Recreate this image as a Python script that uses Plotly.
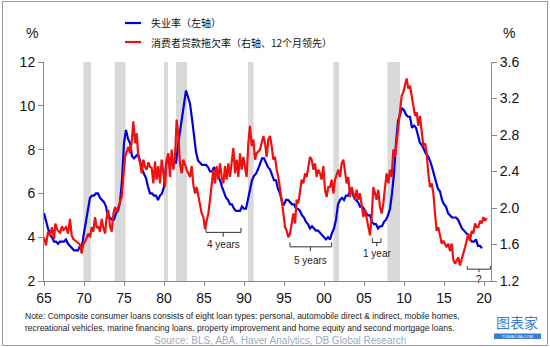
import plotly.graph_objects as go

# ---------------- data ----------------
# US unemployment rate, quarterly (left axis, %)
unemp_start = 1965.0
unemp = [
    5.1, 4.7, 4.4, 4.1,   4.0, 3.8, 3.8, 3.7,   3.8, 3.8, 3.8, 3.9,   3.7, 3.6, 3.5, 3.4,
    3.4, 3.4, 3.6, 3.6,   4.2, 4.8, 5.2, 5.8,   5.9, 5.9, 6.0, 6.0,   5.8, 5.7, 5.6, 5.4,
    4.9, 4.9, 4.8, 4.8,   5.1, 5.2, 5.6, 6.6,   8.3, 8.9, 8.5, 8.3,   7.7, 7.6, 7.7, 7.8,
    7.5, 7.1, 6.9, 6.7,   6.3, 6.0, 6.0, 5.9,   5.9, 5.7, 5.9, 6.0,   6.3, 7.3, 7.7, 7.4,
    7.4, 7.4, 7.4, 8.2,   8.8, 9.4, 9.9, 10.7,  10.4, 10.1, 9.4, 8.5,  7.9, 7.5, 7.4, 7.3,
    7.3, 7.3, 7.2, 7.0,   7.0, 7.2, 7.0, 6.8,   6.6, 6.3, 6.0, 5.8,   5.7, 5.5, 5.5, 5.3,
    5.2, 5.2, 5.2, 5.4,   5.3, 5.3, 5.7, 6.1,   6.6, 6.8, 6.9, 7.1,   7.4, 7.6, 7.6, 7.4,
    7.2, 7.1, 6.8, 6.6,   6.6, 6.2, 6.0, 5.6,   5.5, 5.7, 5.7, 5.6,   5.5, 5.5, 5.3, 5.3,
    5.2, 5.0, 4.9, 4.7,   4.6, 4.4, 4.5, 4.4,   4.3, 4.3, 4.2, 4.1,   4.0, 3.9, 4.0, 3.9,
    4.2, 4.4, 4.8, 5.5,   5.7, 5.8, 5.7, 5.9,   5.9, 6.1, 6.1, 5.8,   5.7, 5.6, 5.4, 5.4,
    5.3, 5.1, 5.0, 5.0,   4.7, 4.6, 4.6, 4.4,   4.5, 4.5, 4.7, 4.8,   5.0, 5.3, 6.0, 6.9,
    8.3, 9.3, 9.6, 9.9,   9.8, 9.6, 9.5, 9.5,   9.0, 9.1, 9.0, 8.6,   8.3, 8.2, 8.0, 7.8,
    7.7, 7.5, 7.2, 6.9,   6.6, 6.2, 6.1, 5.7,   5.5, 5.4, 5.1, 5.0,   4.9, 4.9, 4.9, 4.8,
    4.6, 4.4, 4.3, 4.2,   4.1, 3.9, 3.8, 3.8,   3.9, 3.6, 3.6, 3.5,
]
unemp_year = [unemp_start + 0.25 * i for i in range(len(unemp))]

# Consumer loan delinquency rate, 12m lead (right axis, %)
red_year = [
    1965.00, 1965.25, 1965.50, 1965.75, 1966.00, 1966.25, 1966.42, 1966.67, 1967.00, 1967.25,
    1967.42, 1967.75, 1968.00, 1968.25, 1968.46, 1968.67, 1969.08, 1969.50, 1969.71, 1969.90,
    1970.13, 1970.54, 1970.75, 1970.96, 1971.17, 1971.38, 1971.60, 1971.79, 1972.00, 1972.21,
    1972.42, 1972.63, 1972.83, 1973.04, 1973.25, 1973.46, 1973.70, 1973.88, 1974.10, 1974.29,
    1974.50, 1974.71, 1974.92, 1975.13, 1975.35, 1975.54, 1975.75, 1975.96, 1976.17, 1976.38,
    1976.58, 1976.79, 1977.00, 1977.21, 1977.42, 1977.63, 1977.83, 1978.05, 1978.25,
    1978.46, 1978.67, 1978.88, 1979.08, 1979.29, 1979.50, 1979.71, 1979.92, 1980.13, 1980.33,
    1980.54, 1980.75, 1980.96, 1981.17, 1981.38, 1981.58, 1981.79, 1982.00, 1982.21, 1982.42,
    1982.83, 1983.25, 1983.46, 1983.67, 1983.88, 1984.08, 1984.50, 1984.71, 1984.92, 1985.13,
    1985.33, 1985.54, 1985.75, 1985.96, 1986.17, 1986.38, 1986.58, 1986.79, 1987.00, 1987.21,
    1987.42, 1987.63, 1987.83, 1988.04, 1988.25, 1988.67, 1988.88, 1989.08, 1989.29, 1989.50,
    1989.71, 1989.92, 1990.33, 1990.54, 1990.75, 1990.96, 1991.17, 1991.38, 1991.58,
    1992.00, 1992.42, 1992.63, 1992.83, 1993.04, 1993.25, 1993.46, 1993.67, 1993.88, 1994.08,
    1994.29, 1994.50, 1994.71, 1994.92, 1995.13, 1995.33, 1995.54, 1995.75, 1995.96, 1996.17,
    1996.38, 1996.58, 1996.79, 1997.00, 1997.21, 1997.42, 1997.63, 1997.83, 1998.04, 1998.25,
    1998.46, 1998.67, 1998.88, 1999.08, 1999.29, 1999.50, 1999.71, 1999.92, 2000.13, 2000.33,
    2000.54, 2000.75, 2000.96, 2001.17, 2001.38, 2001.58, 2001.79, 2002.00, 2002.21, 2002.42,
    2002.63, 2002.83, 2003.04, 2003.25, 2003.46, 2003.67, 2003.88, 2004.08, 2004.29, 2004.50,
    2004.71, 2004.92, 2005.13, 2005.33, 2005.54,
    2005.75, 2005.96, 2006.17, 2006.38, 2006.58, 2006.79, 2007.00, 2007.21, 2007.42, 2007.63,
    2007.83, 2008.04, 2008.25, 2008.46, 2008.67, 2008.88, 2009.08, 2009.29, 2009.50, 2009.71,
    2009.92, 2010.13, 2010.33, 2010.54, 2010.75, 2010.96, 2011.17, 2011.38, 2011.58, 2011.79,
    2011.99, 2012.21, 2012.42, 2012.63, 2012.83, 2013.04, 2013.25, 2013.46, 2013.67, 2013.88,
    2014.08, 2014.29, 2014.50, 2014.71, 2014.92, 2015.13, 2015.33, 2015.54, 2015.75, 2015.96,
    2016.17, 2016.38, 2016.58, 2016.79, 2016.99, 2017.21, 2017.42, 2017.63, 2017.83, 2018.04,
    2018.25, 2018.46, 2018.67, 2018.88, 2019.08, 2019.29, 2019.50, 2019.71, 2019.92, 2020.13,
    2020.33,
]
red_rate = [
    1.68, 1.59, 1.74, 1.70, 1.79, 1.66, 1.83, 1.76, 1.73, 1.80,
    1.76, 1.79, 1.72, 1.88, 1.70, 1.66, 1.63, 1.60, 1.50, 1.60,
    1.63, 1.72, 1.68, 1.79, 1.74, 1.90, 1.78, 1.80, 1.74, 1.88,
    1.78, 1.72, 1.90, 1.98, 1.80, 1.74, 1.95, 2.01, 1.96, 2.01,
    2.06, 2.12, 2.34, 2.56, 2.62, 2.67, 2.60, 2.72, 2.95, 2.71,
    2.82, 2.56, 2.50, 2.38, 2.53, 2.45, 2.42, 2.50, 2.45,
    2.44, 2.27, 2.51, 2.31, 2.46, 2.27, 2.53, 2.38, 2.23, 2.53,
    2.60, 2.34, 2.64, 2.42, 2.56, 2.97, 2.79, 2.49, 2.38, 2.53,
    2.42, 2.34, 2.46, 2.25, 2.16, 2.23, 2.01, 1.94, 1.90, 1.77,
    1.86, 1.94, 2.09, 2.23, 2.42, 2.27, 2.46, 2.31, 2.49, 2.34,
    2.27, 2.46, 2.31, 2.49, 2.34, 2.66, 2.38, 2.53, 2.34, 2.60,
    2.42, 2.56, 2.34, 2.71, 2.90, 2.68, 2.75, 2.53, 2.60,
    2.64, 2.79, 2.71, 2.56, 2.75, 2.79, 2.68, 2.53, 2.56, 2.42,
    2.34, 2.23, 2.09, 1.94, 1.79, 1.75, 1.68, 1.72, 1.83, 1.94,
    1.83, 2.09, 2.05, 2.16, 2.31, 2.27, 2.38, 2.34, 2.46, 2.56,
    2.53, 2.42, 2.49, 2.34, 2.42, 2.38, 2.31, 2.46, 2.20, 2.12,
    2.23, 2.23, 2.31, 2.16, 2.31, 2.38, 2.42, 2.34, 2.49, 2.53,
    2.38, 2.27, 2.34, 2.12, 2.23, 2.16, 2.09, 2.20, 2.09, 2.16,
    2.05, 1.90, 1.98, 1.90, 1.79,
    1.70, 1.90, 2.23, 2.16, 2.09, 2.20, 2.01, 1.94, 2.05, 2.23,
    2.38, 2.27, 2.42, 2.34, 2.64, 2.56, 2.71, 2.90, 3.05, 3.23,
    3.27, 3.34, 3.42, 3.31, 3.34, 3.23, 3.12, 3.01, 3.05, 2.90,
    3.01, 2.82, 2.68, 2.71, 2.60, 2.38, 2.23, 2.27, 2.16, 1.94,
    1.75, 1.79, 1.68, 1.61, 1.64, 1.61, 1.57, 1.61, 1.53, 1.61,
    1.43, 1.39, 1.43, 1.46, 1.37, 1.43, 1.50, 1.57, 1.64, 1.72,
    1.64, 1.75, 1.72, 1.83, 1.79, 1.79, 1.86, 1.83, 1.90, 1.86,
    1.89,
]

rec_start = [1969.92, 1973.83, 1980.0, 1981.5, 1990.5, 2001.17, 2007.92]
rec_end = [1970.87, 1975.2, 1980.5, 1982.87, 1991.2, 2001.87, 2009.5]

x_ticks = [1965, 1970, 1975, 1980, 1985, 1990, 1995, 2000, 2005, 2010, 2015, 2020]
x_ticktext = ["65", "70", "75", "80", "85", "90", "95", "00", "05", "10", "15", "20"]
y2_ticks = [1.2, 1.6, 2.0, 2.4, 2.8, 3.2, 3.6]

# ---------------- figure ----------------
W, H = 550, 347
ML, MR, MT, MB = 44, 59, 62, 66
PW, PH = W - ML - MR, H - MT - MB


def px(X):
    return (X - ML) / PW


def py(Y):
    return (H - MB - Y) / PH


fig = go.Figure()

shapes = []
for a, b in zip(rec_start, rec_end):
    shapes.append(dict(type="rect", xref="x", yref="y domain", x0=a, x1=b, y0=0, y1=1,
                       fillcolor="#d9d9d9", line=dict(width=0), layer="below"))

fig.add_trace(go.Scatter(x=unemp_year, y=unemp, mode="lines", name="失业率（左轴）",
                         line=dict(color="#0000dd", width=2.2), yaxis="y"))
fig.add_trace(go.Scatter(x=red_year, y=red_rate, mode="lines",
                         name="消费者贷款拖欠率（右轴、12个月领先）",
                         line=dict(color="#ee1111", width=2.2), yaxis="y2"))

# brackets (left-axis units)
brackets = [
    # x0, x1, xmid, y horiz, y end, y low, label, label y
    (1985.25, 1989.62, 1987.4, 4.22, 4.43, 4.02, "4 years", 3.68),
    (1995.75, 2000.96, 1998.3, 3.56, 3.76, 3.36, "5 years", 2.95),
    (2006.04, 2007.12, 2006.6, 3.76, 3.95, 3.59, "1 year", 3.26),
    (2017.9, 2020.8, 2019.37, 2.54, 2.68, 2.40, "?", 2.07),
]
bcol = "#333333"
annotations = []
for x0, x1, xm, yh, ye, yl, lab, ly in brackets:
    for (a, b, c, d) in [(x0, yh, x1, yh), (x0, yh, x0, ye), (x1, yh, x1, ye), (xm, yh, xm, yl)]:
        shapes.append(dict(type="line", xref="x", yref="y", x0=a, y0=b, x1=c, y1=d,
                           line=dict(color=bcol, width=1)))
    annotations.append(dict(x=xm, y=ly, xref="x", yref="y", text=lab, showarrow=False,
                            font=dict(family="Liberation Sans", size=10, color="#222")))

# legend (manual)
shapes.append(dict(type="line", xref="paper", yref="paper", x0=px(125), x1=px(141),
                   y0=py(23), y1=py(23), line=dict(color="#0000dd", width=2.2)))
shapes.append(dict(type="line", xref="paper", yref="paper", x0=px(125), x1=px(141),
                   y0=py(42), y1=py(42), line=dict(color="#ee1111", width=2.2)))
cjk = "Noto Sans CJK SC"
annotations.append(dict(x=px(149), y=py(23), xref="paper", yref="paper", xanchor="left",
                        yanchor="middle", text="失业率（左轴）", showarrow=False,
                        font=dict(family=cjk, size=10, color="#111")))
annotations.append(dict(x=px(149), y=py(42), xref="paper", yref="paper", xanchor="left",
                        yanchor="middle", text="消费者贷款拖欠率（右轴、12个月领先）", showarrow=False,
                        font=dict(family=cjk, size=10, color="#111")))

# % labels
annotations.append(dict(x=px(24), y=py(23), xref="paper", yref="paper", text="%",
                        showarrow=False, font=dict(family="Liberation Sans", size=14, color="#111")))
annotations.append(dict(x=px(517), y=py(23), xref="paper", yref="paper", text="%",
                        showarrow=False, font=dict(family="Liberation Sans", size=14, color="#111")))

# notes
annotations.append(dict(x=px(23), y=py(315.5), xref="paper", yref="paper", xanchor="left",
                        yanchor="middle", showarrow=False,
                        text="Note: Composite consumer loans consists of eight loan types: personal, automobile direct & indirect, mobile homes,",
                        font=dict(family="Liberation Sans", size=8.5, color="#222")))
annotations.append(dict(x=px(23), y=py(327.5), xref="paper", yref="paper", xanchor="left",
                        yanchor="middle", showarrow=False,
                        text="recreational vehicles, marine financing loans, property improvement and home equity and second mortgage loans.",
                        font=dict(family="Liberation Sans", size=8.5, color="#222")))
annotations.append(dict(x=px(280), y=py(340), xref="paper", yref="paper", xanchor="center",
                        yanchor="middle", showarrow=False,
                        text="Source: BLS, ABA, Haver Analytics, DB Global Research",
                        font=dict(family="Liberation Sans", size=10, color="#9aabc2")))

# logo watermark bottom right
annotations.append(dict(x=px(517), y=py(322), xref="paper", yref="paper", xanchor="center",
                        yanchor="middle", showarrow=False, text="图表家",
                        font=dict(family=cjk, size=14, color="#3b7bd4")))
shapes.append(dict(type="rect", xref="paper", yref="paper", x0=px(494), x1=px(541),
                   y0=py(339), y1=py(333.5), fillcolor="#3b7bd4", line=dict(width=0)))
annotations.append(dict(x=px(517.5), y=py(336.3), xref="paper", yref="paper", xanchor="center",
                        yanchor="middle", showarrow=False, text="TUBIAOJIA.COM",
                        font=dict(family="Liberation Sans", size=4, color="#ffffff")))

# outer frame
shapes.append(dict(type="rect", xref="paper", yref="paper", x0=px(2.5), x1=px(547.5),
                   y0=py(345.5), y1=py(1.5), line=dict(color="#999999", width=1),
                   fillcolor="rgba(0,0,0,0)"))

axcol = "#888888"
tickfont = dict(family="Liberation Sans", size=14, color="#111")
fig.update_layout(
    width=W, height=H, margin=dict(l=ML, r=MR, t=MT, b=MB, pad=0),
    paper_bgcolor="white", plot_bgcolor="white", showlegend=False,
    shapes=shapes, annotations=annotations,
    xaxis=dict(range=[1965, 2020.875], tickvals=x_ticks, ticktext=x_ticktext,
               ticks="outside", ticklen=4, tickcolor=axcol, showline=True, linecolor=axcol,
               linewidth=1, showgrid=False, zeroline=False, tickfont=tickfont),
    yaxis=dict(range=[2, 12], dtick=2, ticks="outside", ticklen=5, tickcolor=axcol,
               showline=True, linecolor=axcol, linewidth=1, showgrid=False, zeroline=False,
               tickfont=tickfont),
    yaxis2=dict(range=[1.2, 3.6], tickvals=y2_ticks, tickformat=".1f", overlaying="y",
                side="right", ticks="outside", ticklen=5, tickcolor=axcol, showline=True,
                linecolor=axcol, linewidth=1, showgrid=False, zeroline=False,
                tickfont=tickfont),
)

fig.write_html("out.html")
